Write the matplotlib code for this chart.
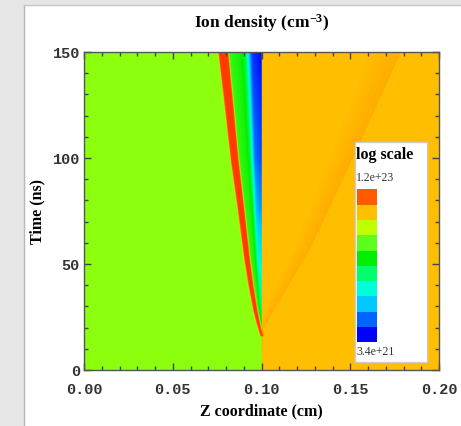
import numpy as np
import matplotlib
matplotlib.use("Agg")
import matplotlib.pyplot as plt
from matplotlib.colors import LinearSegmentedColormap
from matplotlib.patches import Rectangle
from matplotlib.ticker import MultipleLocator

plt.rcParams['mathtext.fontset'] = 'custom'
plt.rcParams['mathtext.rm'] = 'Liberation Serif:bold'
plt.rcParams['mathtext.default'] = 'rm'

# colours of the "log scale" key, bottom to top
level_colors = ['#0000ff', '#0064ff', '#00c8ff', '#00ffd8', '#00ff6e',
                '#00ee00', '#5cff1c', '#c0ff00', '#ffc000', '#ff5a00']
n_min, n_max = 3.4e21, 1.2e23
key_top, key_bottom = '1.2e+23', '3.4e+21'

# densities (cm^-3)
left_density = 4.1e22
right_density = 7.0e22
band_density = 7.5e22
peak_density = 1.12e23
behind_density = 3.0e22
wall_z = 0.1

# red streak (shock front): time, position, half width
front_t = [16, 22, 28, 40, 52, 77, 99, 125, 150]
front_z = [0.0998, 0.0979, 0.0963, 0.0938, 0.0917, 0.0881, 0.0847, 0.0815, 0.0783]
front_w = [0.0004, 0.0007, 0.0009, 0.0011, 0.0013, 0.0016, 0.0019, 0.0022, 0.0025]
# density against the wall behind the front
wall_t = [16, 30, 50, 75, 100, 150]
wall_n = [3.0e22, 1.7e22, 1.06e22, 6.9e21, 5.2e21, 4.1e21]
# profile shape from front (0) to wall (1)
prof_s = [0.0, 0.15, 0.45, 0.58, 0.66, 0.74, 1.0]
prof_f = [1.0, 1.0, 0.92, 0.75, 0.4, 0.1, 0.0]
# darker diagonal band on the right: sharp edge and ramp width
edge_t = [8, 20, 57, 107, 150]
edge_z = [0.100, 0.101, 0.127, 0.155, 0.178]
edge_w = [0.002, 0.004, 0.010, 0.016, 0.020]

z = np.linspace(0, 0.2, 801)
t = np.linspace(0, 150, 301)
lg = np.log10
field = np.zeros((t.size, z.size))
for i, ti in enumerate(t):
    row = np.where(z >= wall_z, lg(right_density), lg(left_density))
    if ti >= edge_t[0]:
        ze = np.interp(ti, edge_t, edge_z)
        we = np.interp(ti, edge_t, edge_w)
        m = (z >= wall_z) & (z <= ze) & (z >= ze - we)
        row[m] = lg(right_density) + (lg(band_density) - lg(right_density)) * (z[m] - (ze - we)) / we
    if ti >= front_t[0]:
        zf = np.interp(ti, front_t, front_z)
        hw = np.interp(ti, front_t, front_w)
        nw = lg(np.interp(ti, wall_t, wall_n))
        m = (z > zf) & (z < wall_z)
        s = (z[m] - zf) / (wall_z - zf)
        row[m] = nw + (lg(behind_density) - nw) * np.interp(s, prof_s, prof_f)
        ramp = np.clip(1 - (np.abs(z - zf) - hw) / 0.0008, 0, 1)
        row = row + (lg(peak_density) - row) * ramp
    field[i] = row

pos = [0.0] + [(k + 0.5) / 10 for k in range(10)] + [1.0]
cols = [level_colors[0]] + level_colors + ['#ff2e00']
cmap = LinearSegmentedColormap.from_list('ion', list(zip(pos, cols)))

fig = plt.figure(figsize=(4.61, 4.26), dpi=100)
fig.patch.set_facecolor('white')
# grey frame of the screenshot
fig.add_artist(Rectangle((0, 0), 24 / 461, 1, transform=fig.transFigure, color='#e6e6e6', zorder=0))
fig.add_artist(Rectangle((0, 1 - 5 / 426), 1, 5 / 426, transform=fig.transFigure, color='#e6e6e6', zorder=0))
fig.add_artist(plt.Line2D([24 / 461, 24 / 461], [0, 1 - 5 / 426], transform=fig.transFigure, color='#b8b8b8', lw=1))
fig.add_artist(plt.Line2D([24 / 461, 1], [1 - 5 / 426, 1 - 5 / 426], transform=fig.transFigure, color='#c8c8c8', lw=1))

ax = fig.add_axes([84 / 461, 1 - 370 / 426, 355 / 461, 318 / 426])
ax.imshow(field, origin='lower', extent=[0, 0.2, 0, 150], aspect='auto',
          cmap=cmap, vmin=lg(n_min), vmax=lg(n_max), interpolation='bilinear')
ax.set_xlim(0, 0.2)
ax.set_ylim(0, 150)

ax.xaxis.set_major_locator(MultipleLocator(0.05))
ax.xaxis.set_minor_locator(MultipleLocator(0.01))
ax.yaxis.set_major_locator(MultipleLocator(50))
ax.yaxis.set_minor_locator(MultipleLocator(10))
ax.tick_params(which='both', direction='in', top=True, right=True, color='#444444')
ax.tick_params(which='major', length=5, width=1)
ax.tick_params(which='minor', length=3, width=1)
ax.tick_params(axis='x', pad=9)
ax.tick_params(axis='y', pad=3)
ax.set_xticks([0, 0.05, 0.1, 0.15, 0.2])
ax.set_xticklabels(['0.00', '0.05', '0.10', '0.15', '0.20'])
for lab in ax.get_xticklabels() + ax.get_yticklabels():
    lab.set_family('Liberation Mono')
    lab.set_fontweight('bold')
    lab.set_fontsize(11)
    lab.set_color('#333333')
for sp in ax.spines.values():
    sp.set_color('#555555')
    sp.set_linewidth(1)

ax.set_xlabel('Z coordinate (cm)', family='Liberation Serif', fontweight='bold', fontsize=11.5, labelpad=5)
ax.set_ylabel('Time (ns)', family='Liberation Serif', fontweight='bold', fontsize=11.5, labelpad=5)
fig.text(261.5 / 461, 1 - 23 / 426, r'Ion density (cm$^{-3}$)', family='Liberation Serif',
         fontweight='bold', fontsize=12.5, ha='center', va='center')

# key box
ax.add_patch(Rectangle((0.763, 0.025), 0.203, 0.692, transform=ax.transAxes,
                       facecolor='white', edgecolor='#cccccc', lw=1, zorder=5))
ph = (0.568 - 0.087) / 10
for k, c in enumerate(level_colors):
    ax.add_patch(Rectangle((0.768, 0.087 + k * ph), 0.058, ph, transform=ax.transAxes,
                           facecolor=c, edgecolor='none', zorder=6))
ax.text(0.767, 0.676, 'log scale', transform=ax.transAxes, family='Liberation Serif',
        fontweight='bold', fontsize=11.5, va='center', zorder=7)
ax.text(0.767, 0.604, key_top, transform=ax.transAxes, family='Liberation Serif',
        fontsize=8.5, va='center', color='#333333', zorder=7)
ax.text(0.767, 0.058, key_bottom, transform=ax.transAxes, family='Liberation Serif',
        fontsize=8.5, va='center', color='#333333', zorder=7)

fig.savefig('out.png', dpi=100)
